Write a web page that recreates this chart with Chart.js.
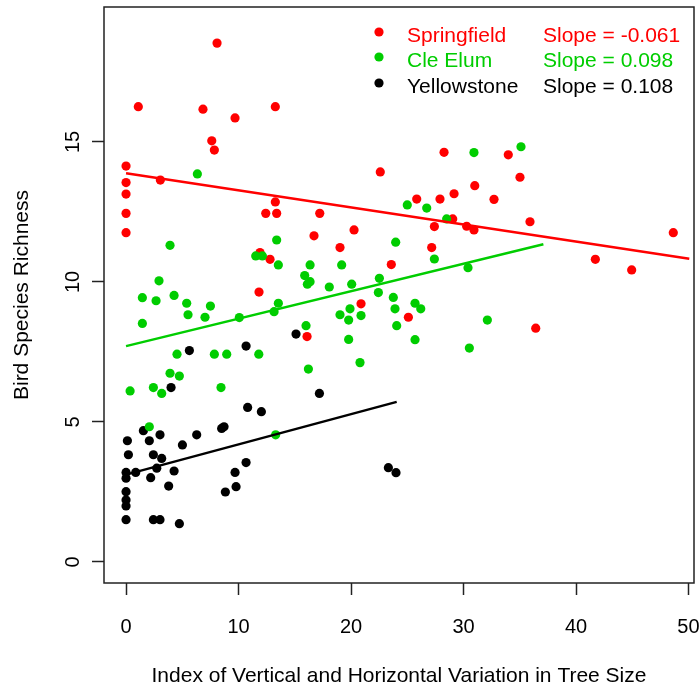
<!DOCTYPE html>
<html>
<head>
<meta charset="utf-8">
<script src="https://cdn.jsdelivr.net/npm/chart.js@4.4.1/dist/chart.umd.min.js"></script>
<style>
  html, body { margin: 0; padding: 0; background: #fff; }
  #wrap { width: 700px; height: 687px; }
</style>
</head>
<body>
<div id="wrap"><canvas id="richness" width="700" height="687"></canvas></div>
<script>
// Sites, colours and the fitted regression lines
const sites = ['Springfield', 'Cle Elum', 'Yellowstone'];
const siteColors = ['#ff0000', '#00cd00', '#000000'];
const slopes = [-0.061, 0.098, 0.108];
const intercepts = [13.88, 7.71, 3.12];
const fitEnds = [50.07, 37.1, 24.06];

// Tree size variation index (x) and bird species richness (y) per plot
const springX = [8.09, 1.09, 6.84, 9.69, 13.27, 7.62, 7.85, 0, 0, 0, 0, 0, 3.05, 22.6, 13.27, 12.42, 13.39, 17.22, 16.71, 20.27, 19.02, 11.91, 12.8, 23.58, 11.82, 20.89, 16.09, 28.27, 25.84, 27.91, 29.16, 29.04, 30.28, 27.41, 27.17, 33.98, 35.02, 31.0, 32.71, 30.93, 35.91, 48.65, 41.72, 44.95, 36.42, 25.1];
const springY = [18.53, 16.26, 16.17, 15.86, 16.26, 15.04, 14.71, 14.14, 13.55, 13.14, 12.45, 11.76, 13.64, 13.93, 12.86, 12.45, 12.45, 12.45, 11.65, 11.86, 11.23, 11.05, 10.81, 10.62, 9.64, 9.22, 8.05, 14.63, 12.96, 12.96, 13.15, 12.25, 11.99, 11.98, 11.23, 14.54, 13.74, 13.44, 12.95, 11.86, 12.15, 11.76, 10.81, 10.43, 8.35, 8.74];

const elumX = [6.34, 3.91, 13.39, 11.53, 12.12, 13.54, 16.36, 19.17, 23.97, 15.88, 16.36, 16.12, 18.07, 20.06, 22.52, 22.43, 23.76, 23.91, 24.06, 2.93, 1.45, 2.67, 4.27, 5.39, 5.51, 7.5, 7.02, 10.07, 1.45, 13.54, 13.16, 19.02, 19.91, 19.79, 20.89, 16.0, 19.79, 4.53, 7.85, 8.95, 11.8, 16.21, 20.8, 3.91, 4.74, 25.0, 26.73, 28.5, 27.41, 30.4, 25.69, 26.2, 25.69, 32.12, 30.52, 30.93, 35.11, 0.36, 2.43, 3.17, 8.44, 2.07, 13.3];
const elumY = [13.86, 11.31, 11.5, 10.93, 10.93, 10.61, 10.61, 10.61, 11.42, 10.23, 10.01, 9.92, 9.82, 9.92, 10.13, 9.62, 9.45, 9.04, 8.44, 10.04, 9.44, 9.33, 9.52, 9.24, 8.83, 9.14, 8.74, 8.73, 8.52, 9.24, 8.94, 8.83, 9.04, 8.64, 8.8, 8.44, 7.95, 7.42, 7.42, 7.42, 7.42, 6.89, 7.12, 6.74, 6.64, 12.75, 12.64, 12.25, 10.82, 10.51, 9.24, 9.04, 7.94, 8.64, 7.64, 14.62, 14.83, 6.11, 6.23, 6.02, 6.23, 4.83, 4.54];

const yellX = [4.0, 17.19, 10.81, 12.03, 1.54, 3.02, 6.28, 8.5, 8.71, 0.12, 2.07, 5.01, 0.21, 2.43, 3.17, 2.73, 4.27, 0.86, 0, 0, 2.19, 3.79, 9.69, 10.67, 8.83, 9.78, 0, 0, 0, 0, 2.43, 3.02, 4.74, 23.32, 24.0, 5.63, 10.67, 15.11];
const yellY = [6.23, 6.02, 5.52, 5.37, 4.69, 4.54, 4.54, 4.77, 4.83, 4.33, 4.33, 4.18, 3.83, 3.83, 3.7, 3.35, 3.25, 3.2, 3.2, 2.99, 3.01, 2.71, 3.2, 3.55, 2.5, 2.69, 2.51, 2.21, 2.0, 1.51, 1.51, 1.51, 1.37, 3.37, 3.19, 7.55, 7.71, 8.14];

const xTicks = [0, 10, 20, 30, 40, 50];
const yTicks = [0, 5, 10, 15];

const family = "'Liberation Sans', Arial, sans-serif";
const siteX = [springX, elumX, yellX];
const siteY = [springY, elumY, yellY];
// green on top, then black, red underneath
const pointOrder = [3, 1, 2];

const datasets = [];
sites.forEach((name, i) => {
    datasets.push({
        type: 'scatter',
        label: name,
        data: siteX[i].map((x, k) => ({ x: x, y: siteY[i][k] })),
        backgroundColor: siteColors[i],
        borderWidth: 0,
        pointRadius: 4.6,
        pointHoverRadius: 4.6,
        order: pointOrder[i]
    });
});
sites.forEach((name, i) => {
    const end = fitEnds[i];
    datasets.push({
        type: 'line',
        label: name + ' fit',
        data: [{ x: 0, y: intercepts[i] }, { x: end, y: intercepts[i] + slopes[i] * end }],
        borderColor: siteColors[i],
        borderWidth: 2.5,
        pointRadius: 0,
        fill: false,
        order: 0
    });
});

// Box, rotated y labels, y title and the legend with slopes
const framePlugin = {
    id: 'frame',
    afterDraw(chart) {
        const { ctx, chartArea: a, scales } = chart;
        ctx.save();
        ctx.strokeStyle = '#222';
        ctx.lineWidth = 1.5;
        ctx.strokeRect(a.left, a.top, a.right - a.left, a.bottom - a.top);

        ctx.fillStyle = '#000';
        ctx.textAlign = 'center';
        ctx.textBaseline = 'alphabetic';
        ctx.font = '20px ' + family;
        yTicks.forEach(v => {
            const py = scales.y.getPixelForValue(v);
            ctx.save();
            ctx.translate(79, py);
            ctx.rotate(-Math.PI / 2);
            ctx.fillText(String(v), 0, 0);
            ctx.restore();
        });

        ctx.font = '21px ' + family;
        ctx.save();
        ctx.translate(28, (a.top + a.bottom) / 2);
        ctx.rotate(-Math.PI / 2);
        ctx.fillText('Bird Species Richness', 0, 0);
        ctx.restore();

        const rowY = [32, 57, 83];
        ctx.textAlign = 'left';
        ctx.textBaseline = 'middle';
        sites.forEach((name, i) => {
            ctx.fillStyle = siteColors[i];
            ctx.beginPath();
            ctx.arc(379, rowY[i], 4.6, 0, Math.PI * 2);
            ctx.fill();
            ctx.fillText(name, 407, rowY[i] + 4);
            ctx.fillText('Slope = ' + slopes[i].toFixed(3), 543, rowY[i] + 4);
        });
        ctx.restore();
    }
};

new Chart(document.getElementById('richness'), {
    type: 'scatter',
    data: { datasets: datasets },
    options: {
        responsive: false,
        animation: false,
        events: [],
        layout: { padding: { top: 7, right: 6, left: 0, bottom: 0 } },
        plugins: {
            legend: { display: false },
            tooltip: { enabled: false }
        },
        scales: {
            x: {
                type: 'linear',
                min: -1.96,
                max: 50.49,
                afterBuildTicks: scale => { scale.ticks = xTicks.map(v => ({ value: v })); },
                afterFit: scale => {
                    scale.height = 104;
                    scale.paddingLeft = 0;
                    scale.paddingRight = 0;
                },
                grid: { drawOnChartArea: false, tickLength: 12, tickWidth: 1.5, tickColor: '#222' },
                border: { display: false },
                ticks: { color: '#000', font: { family: family, size: 20 }, padding: 20 },
                title: {
                    display: true,
                    text: 'Index of Vertical and Horizontal Variation in Tree Size',
                    color: '#000',
                    font: { family: family, size: 21 },
                    padding: { top: 0, bottom: -2 }
                }
            },
            y: {
                type: 'linear',
                min: -0.75,
                max: 19.82,
                afterBuildTicks: scale => { scale.ticks = yTicks.map(v => ({ value: v })); },
                afterFit: scale => { scale.width = 104; },
                grid: { drawOnChartArea: false, tickLength: 12, tickWidth: 1.5, tickColor: '#222' },
                border: { display: false },
                ticks: { display: false }
            }
        }
    },
    plugins: [framePlugin]
});
</script>
</body>
</html>
